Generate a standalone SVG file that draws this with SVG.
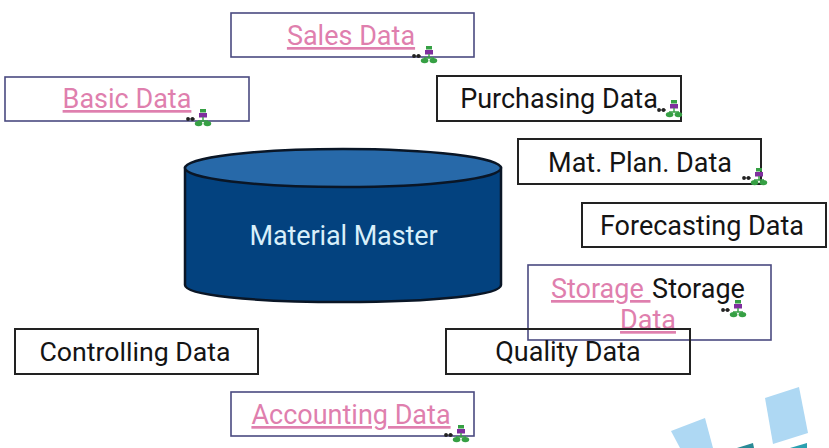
<svg xmlns="http://www.w3.org/2000/svg" width="829" height="448" viewBox="0 0 829 448">
<style>
text{font-family:Roboto,"Liberation Sans",sans-serif;font-size:27px;text-anchor:middle;fill:#141414}
.l{fill:#df7fae;text-decoration:underline}
.b{fill:#fff;stroke:#222;stroke-width:2}
.p{fill:#fff;stroke:#4a4a80;stroke-width:1.6}
</style>
<defs>
<g id="ic">
<circle cx="-15" cy="1" r="1.9" fill="#222"/><circle cx="-10.5" cy="1" r="1.9" fill="#222"/>
<path d="M-14 1h6" stroke="#222" stroke-width="1"/>
<rect x="-3" y="-9" width="6" height="3.5" fill="#36a044"/>
<rect x="-4" y="-5" width="8" height="4.5" fill="#7f2f9e"/>
<path d="M0-1V3M-5 3H5" stroke="#36a044" stroke-width="1.4" fill="none"/>
<ellipse cx="-4.4" cy="5.6" rx="3.8" ry="2.6" fill="#36a044"/><ellipse cx="4.4" cy="5.6" rx="3.8" ry="2.6" fill="#36a044"/>
</g>
</defs>
<rect width="829" height="448" fill="#fff"/>
<g id="connectors"/>
<g id="material-master">
<path d="M185 168V285C185 295 250 302 343 302S501 295 501 285V168Z" fill="#03427f" stroke="#0a1626" stroke-width="2.5"/>
<ellipse cx="343" cy="168" rx="158" ry="19" fill="#2769a9" stroke="#0a1626" stroke-width="2.5"/>
<text x="343.500" y="245" style="fill:#d8effa;letter-spacing:-.1px">Material Master</text>
</g>
<g id="sales-data"><rect class="p" x="231" y="13" width="243" height="44"/><text class="l" x="351" y="45">Sales Data</text><use href="#ic" x="429" y="55"/></g>
<g id="basic-data"><rect class="p" x="5" y="77" width="244" height="44"/><text class="l" x="127" y="108">Basic Data</text><use href="#ic" x="203" y="118"/></g>
<g id="purchasing-data"><rect class="b" x="437" y="76" width="244" height="45"/><text x="559" y="108">Purchasing Data</text><use href="#ic" x="674" y="109"/></g>
<g id="mat-plan-data"><rect class="b" x="518" y="139" width="243" height="45"/><text x="640" y="172">Mat. Plan. Data</text><use href="#ic" x="759" y="177"/></g>
<g id="forecasting-data"><rect class="b" x="582" y="203" width="244" height="44"/><text x="702" y="235">Forecasting Data</text></g>
<g id="storage-data"><rect class="p" x="528" y="265" width="243" height="75"/><text class="l" xml:space="preserve" x="551" y="298" style="text-anchor:start">Storage </text><text x="698.500" y="298">Storage</text><text class="l" x="648" y="329">Data</text><use href="#ic" x="738" y="309"/></g>
<g id="quality-data"><rect x="446" y="329" width="244" height="45" fill="none" stroke="#222" stroke-width="2"/><text x="568" y="361">Quality Data</text></g>
<g id="controlling-data"><rect class="b" x="15" y="329" width="243" height="45"/><text x="135" y="361" style="font-size:26.700px">Controlling Data</text></g>
<g id="accounting-data"><rect class="p" x="231" y="392" width="243" height="44"/><text class="l" x="351" y="424">Accounting Data</text><use href="#ic" x="461" y="434"/></g>
<path d="M671 431L705 418L713 448H680Z" fill="#aed8f3"/>
<path d="M765 398L799 387L808 433L773 444Z" fill="#aed8f3"/>
<path d="M737 448L753 443L754 448Z" fill="#2a8a96"/>
<path d="M790 448L807 443L807 448Z" fill="#2aa0b0"/>
</svg>
